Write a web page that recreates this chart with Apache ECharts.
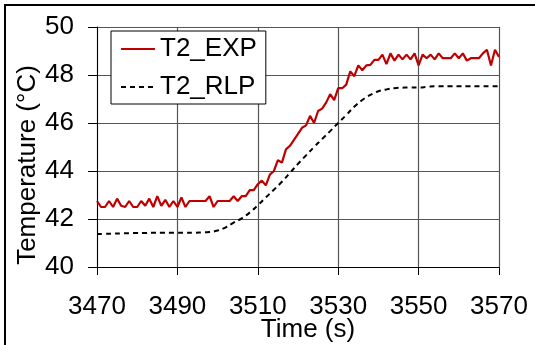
<!DOCTYPE html>
<html>
<head>
<meta charset="utf-8">
<script src="https://cdn.jsdelivr.net/npm/echarts@6/dist/echarts.min.js"></script>
<style>
html,body{margin:0;padding:0;background:#fff;}
#chart{width:535px;height:345px;}
</style>
</head>
<body>
<div id="chart"></div>
<script>
// ---- data ----
const seriesNames = ['T2_EXP', 'T2_RLP'];
const expStart = 3470; // s, 1 s sampling
const expValues = [
  42.75, 42.5, 42.5, 42.75, 42.5, 42.85, 42.55, 42.5, 42.75, 42.5,
  42.5, 42.75, 42.55, 42.85, 42.5, 42.95, 42.55, 42.8, 42.5, 42.75,
  42.5, 42.9, 42.5, 42.75, 42.75, 42.75, 42.75, 42.75, 42.95, 42.5,
  42.75, 42.75, 42.75, 42.75, 42.95, 42.75, 42.95, 42.95, 43.2, 43.2,
  43.45, 43.6, 43.4, 43.85, 44.0, 44.45, 44.35, 44.9, 45.05, 45.3,
  45.55, 45.8, 45.9, 46.3, 46.0, 46.5, 46.6, 46.85, 47.2, 46.95,
  47.45, 47.45, 47.6, 48.15, 47.95, 48.4, 48.2, 48.4, 48.42, 48.63,
  48.63, 48.85, 48.45, 48.9, 48.6, 48.85, 48.65, 48.85, 48.65, 48.9,
  48.4, 48.85, 48.7, 48.85, 48.65, 48.9, 48.7, 48.7, 48.7, 48.9,
  48.7, 48.9, 48.6, 48.7, 48.7, 48.7, 48.9, 49.05, 48.4, 49.05,
  48.75
];
const rlpStart = 3470; // s, 2 s sampling
const rlpStep = 2;
const rlpValues = [
  41.37, 41.38, 41.39, 41.40, 41.41, 41.42, 41.42, 41.43, 41.43, 41.43,
  41.43, 41.43, 41.43, 41.44, 41.46, 41.52, 41.65, 41.85, 42.03, 42.27,
  42.57, 42.90, 43.22, 43.55, 43.92, 44.30, 44.65, 45.00, 45.33, 45.66,
  46.00, 46.33, 46.68, 46.96, 47.17, 47.32, 47.40, 47.45, 47.47, 47.48,
  47.48, 47.50, 47.53, 47.53, 47.53, 47.53, 47.53, 47.53, 47.53, 47.53,
  47.53
];
const xTicks = [3470, 3490, 3510, 3530, 3550, 3570];
const yTicks = [40, 42, 44, 46, 48, 50];
const xTitle = 'Time (s)';
const yTitle = 'Temperature (\u00B0C)';

// ---- build ----
const expData = expValues.map((v, i) => [expStart + i, v]);
const rlpData = rlpValues.map((v, i) => [rlpStart + i * rlpStep, v]);
const FONT = 'Liberation Sans, Arial, sans-serif';
const FS = 26;

const chart = echarts.init(document.getElementById('chart'), null, {renderer: 'canvas'});
chart.setOption({
  animation: false,
  backgroundColor: '#fff',
  textStyle: {fontFamily: FONT},
  grid: {left: 97, top: 27, right: 36, bottom: 78, containLabel: false},
  xAxis: {
    type: 'value',
    min: xTicks[0], max: xTicks[xTicks.length - 1], interval: 20,
    axisLine: {show: true, lineStyle: {color: '#000', width: 1}},
    axisTick: {show: true, inside: false, length: 8, lineStyle: {color: '#000', width: 1}},
    axisLabel: {color: '#000', fontSize: FS, fontFamily: FONT, margin: 27,
      formatter: v => String(v)},
    splitLine: {show: true, lineStyle: {color: '#555', width: 1.2}}
  },
  yAxis: {
    type: 'value',
    min: yTicks[0], max: yTicks[yTicks.length - 1], interval: 2,
    axisLine: {show: true, lineStyle: {color: '#000', width: 1}},
    axisTick: {show: true, inside: false, length: 9, lineStyle: {color: '#000', width: 1}},
    axisLabel: {color: '#000', fontSize: FS, fontFamily: FONT, margin: 23,
      formatter: v => String(v)},
    splitLine: {show: true, lineStyle: {color: '#555', width: 1.2}}
  },
  legend: {
    orient: 'vertical',
    left: 111, top: 31,
    padding: [5, 9, 4, 9],
    itemGap: 12,
    itemWidth: 34, itemHeight: 14,
    backgroundColor: '#fff',
    borderColor: '#000', borderWidth: 1, borderRadius: 0,
    itemStyle: {opacity: 0},
    textStyle: {color: '#000', fontSize: FS, fontFamily: FONT, lineHeight: 26},
    data: seriesNames
  },
  series: [
    {
      name: seriesNames[0], type: 'line', data: expData,
      symbol: 'none', showSymbol: false, smooth: false,
      lineStyle: {color: '#c00000', width: 2.2},
      itemStyle: {color: '#c00000'},
      z: 3
    },
    {
      name: seriesNames[1], type: 'line', data: rlpData,
      symbol: 'none', showSymbol: false, smooth: true,
      lineStyle: {color: '#000', width: 2, type: [5, 4]},
      itemStyle: {color: '#000'},
      z: 2
    }
  ],
  graphic: [
    {
      type: 'rect', silent: true, z: 100,
      shape: {x: 5, y: 5, width: 600, height: 400},
      style: {fill: 'none', stroke: '#000', lineWidth: 2}
    },
    {
      type: 'text', silent: true,
      x: 28, y: 165, rotation: Math.PI / 2,
      style: {text: yTitle, fill: '#000', font: FS + 'px ' + FONT, textAlign: 'center', textVerticalAlign: 'middle'}
    },
    {
      type: 'text', silent: true,
      x: 308, y: 330,
      style: {text: xTitle, fill: '#000', font: FS + 'px ' + FONT, textAlign: 'center', textVerticalAlign: 'middle'}
    }
  ]
});
</script>
</body>
</html>
